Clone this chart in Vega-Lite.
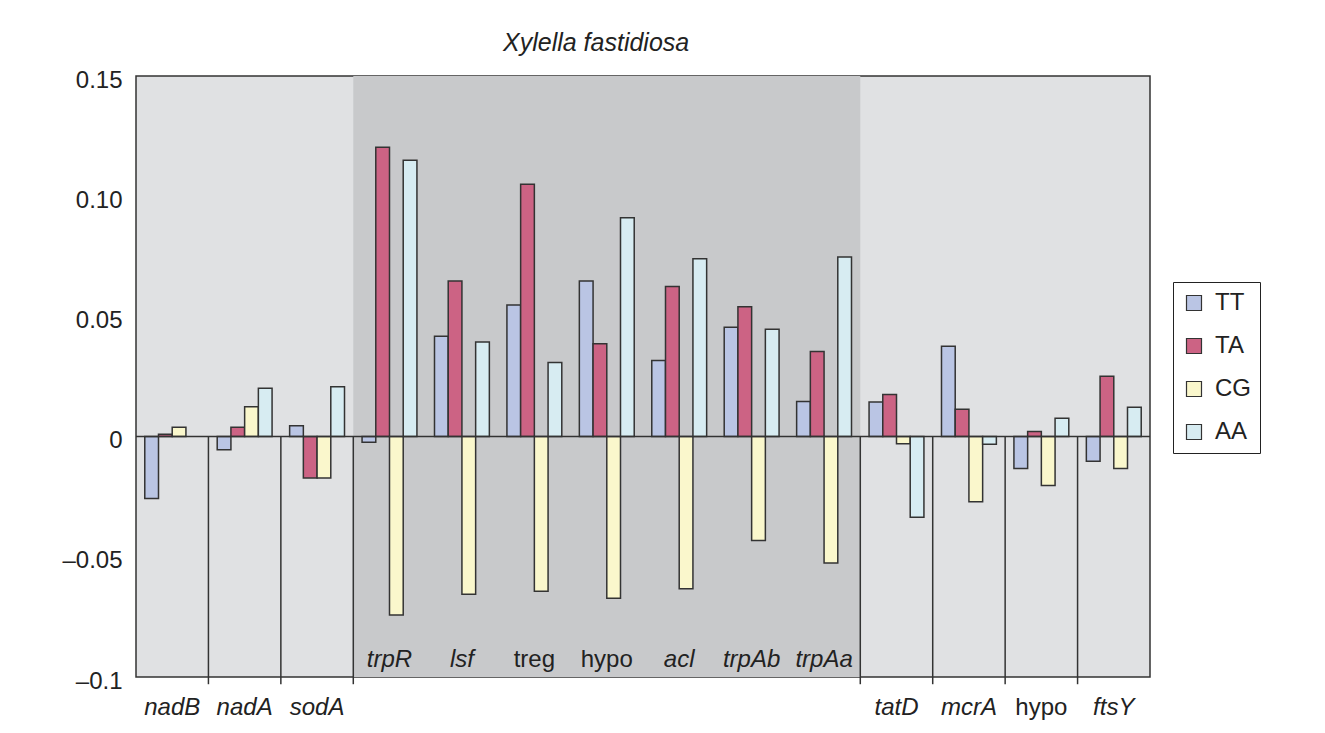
{
  "$schema": "https://vega.github.io/schema/vega-lite/v6.json",
  "autosize": "none",
  "width": 1014,
  "height": 601,
  "padding": {"left": 136, "top": 76, "right": 175, "bottom": 56},
  "background": "white",
  "config": {
    "font": "Liberation Sans",
    "view": {"stroke": "#333333", "strokeWidth": 1.5, "fill": "#e0e1e3"}
  },
  "title": {
    "text": "Xylella fastidiosa",
    "font": "Liberation Sans",
    "fontStyle": "italic",
    "fontWeight": "normal",
    "fontSize": 25,
    "color": "#222222",
    "anchor": "start",
    "frame": "group",
    "dx": 367,
    "baseline": "bottom",
    "offset": -13
  },
  "datasets": {
    "genes": [
      {"gene": "nadB", "label": "nadB", "region": "outer"},
      {"gene": "nadA", "label": "nadA", "region": "outer"},
      {"gene": "sodA", "label": "sodA", "region": "outer"},
      {"gene": "trpR", "label": "trpR", "region": "inner"},
      {"gene": "lsf", "label": "lsf", "region": "inner"},
      {"gene": "treg", "label": "treg", "region": "inner"},
      {"gene": "hypo1", "label": "hypo", "region": "inner"},
      {"gene": "acl", "label": "acl", "region": "inner"},
      {"gene": "trpAb", "label": "trpAb", "region": "inner"},
      {"gene": "trpAa", "label": "trpAa", "region": "inner"},
      {"gene": "tatD", "label": "tatD", "region": "outer"},
      {"gene": "mcrA", "label": "mcrA", "region": "outer"},
      {"gene": "hypo2", "label": "hypo", "region": "outer"},
      {"gene": "ftsY", "label": "ftsY", "region": "outer"}
    ],
    "bars": [
      {"gene": "nadB", "series": "TT", "value": -0.0257},
      {"gene": "nadB", "series": "TA", "value": 0.001},
      {"gene": "nadB", "series": "CG", "value": 0.0039},
      {"gene": "nadA", "series": "TT", "value": -0.0055},
      {"gene": "nadA", "series": "TA", "value": 0.0039},
      {"gene": "nadA", "series": "CG", "value": 0.0124},
      {"gene": "nadA", "series": "AA", "value": 0.0201},
      {"gene": "sodA", "series": "TT", "value": 0.0045},
      {"gene": "sodA", "series": "TA", "value": -0.0172},
      {"gene": "sodA", "series": "CG", "value": -0.0172},
      {"gene": "sodA", "series": "AA", "value": 0.0207},
      {"gene": "trpR", "series": "TT", "value": -0.0024},
      {"gene": "trpR", "series": "TA", "value": 0.1204},
      {"gene": "trpR", "series": "CG", "value": -0.0742},
      {"gene": "trpR", "series": "AA", "value": 0.115},
      {"gene": "lsf", "series": "TT", "value": 0.0417},
      {"gene": "lsf", "series": "TA", "value": 0.0647},
      {"gene": "lsf", "series": "CG", "value": -0.0656},
      {"gene": "lsf", "series": "AA", "value": 0.0394},
      {"gene": "treg", "series": "TT", "value": 0.0547},
      {"gene": "treg", "series": "TA", "value": 0.105},
      {"gene": "treg", "series": "CG", "value": -0.0643},
      {"gene": "treg", "series": "AA", "value": 0.0308},
      {"gene": "hypo1", "series": "TT", "value": 0.0647},
      {"gene": "hypo1", "series": "TA", "value": 0.0386},
      {"gene": "hypo1", "series": "CG", "value": -0.0672},
      {"gene": "hypo1", "series": "AA", "value": 0.091},
      {"gene": "acl", "series": "TT", "value": 0.0317},
      {"gene": "acl", "series": "TA", "value": 0.0624},
      {"gene": "acl", "series": "CG", "value": -0.0633},
      {"gene": "acl", "series": "AA", "value": 0.074},
      {"gene": "trpAb", "series": "TT", "value": 0.0455},
      {"gene": "trpAb", "series": "TA", "value": 0.054},
      {"gene": "trpAb", "series": "CG", "value": -0.0432},
      {"gene": "trpAb", "series": "AA", "value": 0.0447},
      {"gene": "trpAa", "series": "TT", "value": 0.0146},
      {"gene": "trpAa", "series": "TA", "value": 0.0354},
      {"gene": "trpAa", "series": "CG", "value": -0.0526},
      {"gene": "trpAa", "series": "AA", "value": 0.0747},
      {"gene": "tatD", "series": "TT", "value": 0.0144},
      {"gene": "tatD", "series": "TA", "value": 0.0175},
      {"gene": "tatD", "series": "CG", "value": -0.003},
      {"gene": "tatD", "series": "AA", "value": -0.0336},
      {"gene": "mcrA", "series": "TT", "value": 0.0376},
      {"gene": "mcrA", "series": "TA", "value": 0.0114},
      {"gene": "mcrA", "series": "CG", "value": -0.0271},
      {"gene": "mcrA", "series": "AA", "value": -0.0032},
      {"gene": "hypo2", "series": "TT", "value": -0.0133},
      {"gene": "hypo2", "series": "TA", "value": 0.0021},
      {"gene": "hypo2", "series": "CG", "value": -0.0203},
      {"gene": "hypo2", "series": "AA", "value": 0.0076},
      {"gene": "ftsY", "series": "TT", "value": -0.0103},
      {"gene": "ftsY", "series": "TA", "value": 0.0251},
      {"gene": "ftsY", "series": "CG", "value": -0.0133},
      {"gene": "ftsY", "series": "AA", "value": 0.0122}
    ]
  },
  "encoding": {
    "x": {
      "field": "gene",
      "type": "nominal",
      "sort": ["nadB", "nadA", "sodA", "trpR", "lsf", "treg", "hypo1", "acl", "trpAb", "trpAa", "tatD", "mcrA", "hypo2", "ftsY"],
      "scale": {"domain": ["nadB", "nadA", "sodA", "trpR", "lsf", "treg", "hypo1", "acl", "trpAb", "trpAa", "tatD", "mcrA", "hypo2", "ftsY"], "paddingInner": 0, "paddingOuter": 0},
      "axis": null
    }
  },
  "layer": [
    {
      "data": {"values": [{"gene": "trpR", "end": "trpAa"}]},
      "mark": {"type": "rect", "color": "#c8c9cb"},
      "encoding": {
        "x": {"field": "gene", "type": "nominal", "bandPosition": 0},
        "x2": {"field": "end", "bandPosition": 1},
        "y": {"datum": -0.1, "type": "quantitative", "scale": {"domain": [-0.1, 0.15], "nice": false, "zero": false},
          "axis": {
            "values": [-0.1, -0.05, 0, 0.05, 0.1, 0.15],
            "labelExpr": "datum.value == 0 ? '0' : datum.value == 0.15 ? '0.15' : datum.value == 0.1 ? '0.10' : datum.value == 0.05 ? '0.05' : datum.value == -0.05 ? '–0.05' : '–0.1'",
            "title": null,
            "ticks": false,
            "domain": false,
            "grid": false,
            "labelFont": "Liberation Sans",
            "labelFontSize": 24,
            "labelColor": "#222222",
            "labelPadding": 14,
            "labelOffset": 4
          }
        },
        "y2": {"datum": 0.15}
      }
    },
    {
      "data": {"name": "genes"},
      "transform": [{"filter": {"field": "gene", "oneOf": ["nadA", "sodA", "trpR", "tatD", "mcrA", "hypo2", "ftsY"]}}],
      "mark": {"type": "rule", "color": "#333333", "strokeWidth": 1.5},
      "encoding": {
        "x": {"field": "gene", "type": "nominal", "bandPosition": 0},
        "y": {"datum": 0, "type": "quantitative"},
        "y2": {"datum": -0.103}
      }
    },
    {
      "data": {"name": "bars"},
      "mark": {"type": "bar", "stroke": "#333333", "strokeWidth": 1.5},
      "encoding": {
        "xOffset": {"field": "series", "type": "nominal", "sort": ["TT", "TA", "CG", "AA"], "scale": {"paddingInner": 0, "paddingOuter": 0.64}},
        "y": {"field": "value", "type": "quantitative"},
        "color": {
          "field": "series",
          "type": "nominal",
          "sort": ["TT", "TA", "CG", "AA"],
          "scale": {"domain": ["TT", "TA", "CG", "AA"], "range": ["#bac5e4", "#cc6384", "#faf7cc", "#d7ecf2"]},
          "legend": {
            "orient": "none",
            "legendX": 1037,
            "legendY": 206,
            "title": null,
            "symbolType": "square",
            "symbolSize": 225,
            "symbolStrokeColor": "#333333",
            "symbolStrokeWidth": 1.2,
            "symbolOpacity": 1,
            "labelFont": "Liberation Sans",
            "labelFontSize": 24,
            "labelColor": "#222222",
            "labelOffset": 9,
            "rowPadding": 19,
            "padding": 9,
            "strokeColor": "#222222",
            "fillColor": "white"
          }
        }
      }
    },
    {
      "data": {"values": [{"z": 0}]},
      "mark": {"type": "rule", "color": "#333333", "strokeWidth": 1.5},
      "encoding": {
        "x": null,
        "y": {"datum": 0, "type": "quantitative"}
      }
    },
    {
      "data": {"name": "genes"},
      "transform": [{"filter": "datum.region == 'outer' && datum.label != 'hypo'"}],
      "mark": {"type": "text", "font": "Liberation Sans", "fontStyle": "italic", "fontSize": 24, "color": "#222222", "baseline": "middle"},
      "encoding": {
        "y": {"datum": -0.1129, "type": "quantitative"},
        "text": {"field": "label"}
      }
    },
    {
      "data": {"name": "genes"},
      "transform": [{"filter": "datum.region == 'outer' && datum.label == 'hypo'"}],
      "mark": {"type": "text", "font": "Liberation Sans", "fontSize": 24, "color": "#222222", "baseline": "middle"},
      "encoding": {
        "y": {"datum": -0.1129, "type": "quantitative"},
        "text": {"field": "label"}
      }
    },
    {
      "data": {"name": "genes"},
      "transform": [{"filter": "datum.region == 'inner' && datum.label != 'hypo' && datum.label != 'treg'"}],
      "mark": {"type": "text", "font": "Liberation Sans", "fontStyle": "italic", "fontSize": 24, "color": "#222222", "baseline": "middle"},
      "encoding": {
        "y": {"datum": -0.0929, "type": "quantitative"},
        "text": {"field": "label"}
      }
    },
    {
      "data": {"name": "genes"},
      "transform": [{"filter": "datum.region == 'inner' && (datum.label == 'hypo' || datum.label == 'treg')"}],
      "mark": {"type": "text", "font": "Liberation Sans", "fontSize": 24, "color": "#222222", "baseline": "middle"},
      "encoding": {
        "y": {"datum": -0.0929, "type": "quantitative"},
        "text": {"field": "label"}
      }
    }
  ]
}
